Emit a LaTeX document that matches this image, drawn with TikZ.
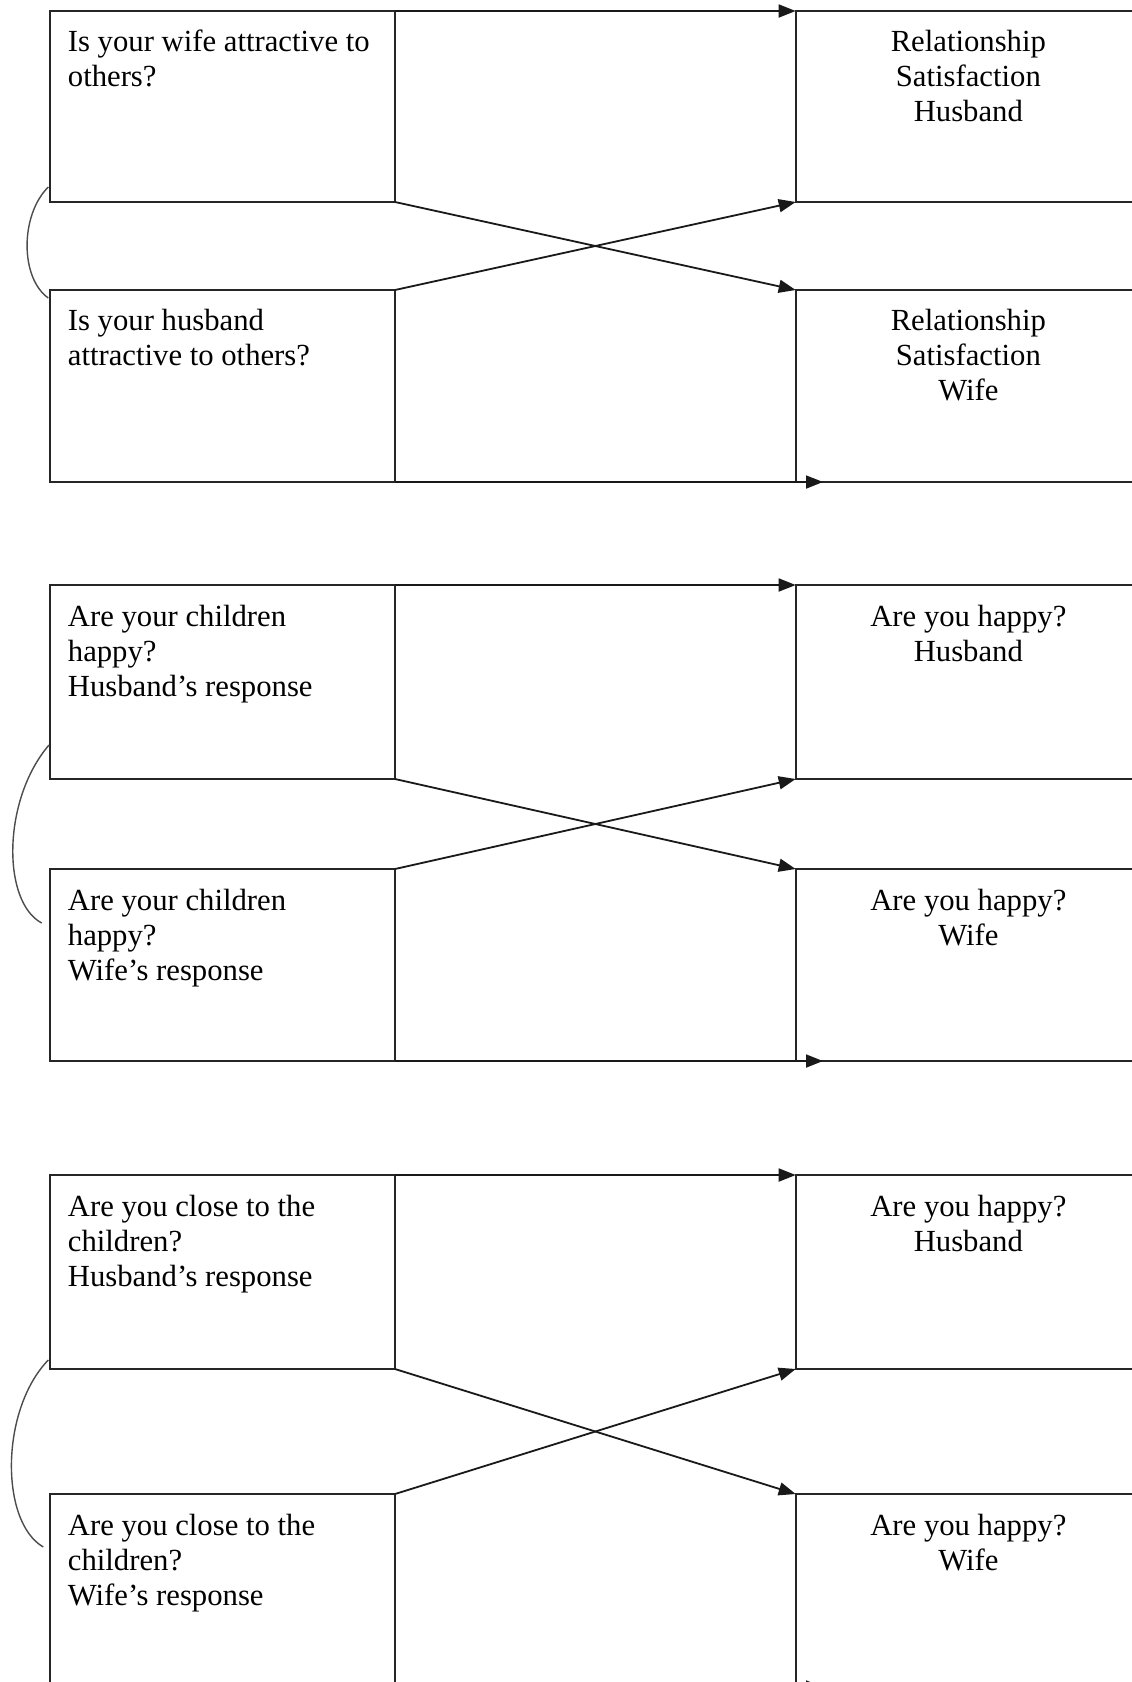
\documentclass[tikz,border=0pt]{standalone}
\usepackage{fontspec}
\setmainfont{Liberation Serif}
\usetikzlibrary{arrows.meta,calc}

\begin{document}
\begin{tikzpicture}[x=1pt,y=-1pt,
  qbox/.style={draw=black!85, line width=2pt, minimum width=345.3pt,
    minimum height=#1, inner sep=0pt, outer sep=0pt, anchor=north west},
  ltext/.style={anchor=north west, inner sep=0pt, align=left,
    font=\fontsize{30.7}{35.3}\selectfont},
  rtext/.style={anchor=north, inner sep=0pt, align=center,
    font=\fontsize{30.7}{35.3}\selectfont},
  conn/.style={draw=black!90, line width=1.8pt,
    -{Triangle[length=17pt,width=13pt]}},
  pairarc/.style={draw=black!70, line width=1.4pt}]

\path[use as bounding box, fill=white] (0,0) rectangle (1132,1682);

% ---------- Block 1: attractiveness -> relationship satisfaction ----------
\node[qbox=191pt] (L1) at (49.7,11) {};
\node[qbox=192pt] (L2) at (49.7,290) {};
\node[qbox=191pt] (R1) at (795.7,11) {};
\node[qbox=192pt] (R2) at (795.7,290) {};
\node[ltext] (L1t) at ($(L1.north west)+(18,18.5)$) {Is your wife attractive to\\others?};
\node[ltext] (L2t) at ($(L2.north west)+(18,18.5)$) {Is your husband\\attractive to others?};
\node[rtext] (R1t) at ($(R1.north west)+(172.65,18.5)$) {Relationship\\Satisfaction\\Husband};
\node[rtext] (R2t) at ($(R2.north west)+(172.65,18.5)$) {Relationship\\Satisfaction\\Wife};
\coordinate (B1) at ($(R2.south west)+(27.3,0)$);
\draw[conn] (L1.north east) -- (R1.north west);
\draw[conn] (L1.south east) -- (R2.north west);
\draw[conn] (L2.north east) -- (R1.south west);
\draw[conn] (L2.south east) -- (B1);
\coordinate (A1s) at (48.3,187);
\coordinate (A1e) at (48.3,298);
\draw[pairarc] (A1s) .. controls (20,215) and (20,278) .. (A1e);

% ---------- Block 2: children happy -> are you happy ----------
\node[qbox=194pt] (L3) at (49.7,585) {};
\node[qbox=192pt] (L4) at (49.7,869) {};
\node[qbox=194pt] (R3) at (795.7,585) {};
\node[qbox=192pt] (R4) at (795.7,869) {};
\node[ltext] (L3t) at ($(L3.north west)+(18,19.5)$) {Are your children\\happy?\\Husband’s response};
\node[ltext] (L4t) at ($(L4.north west)+(18,19.5)$) {Are your children\\happy?\\Wife’s response};
\node[rtext] (R3t) at ($(R3.north west)+(172.65,19.5)$) {Are you happy?\\Husband};
\node[rtext] (R4t) at ($(R4.north west)+(172.65,19.5)$) {Are you happy?\\Wife};
\coordinate (B2) at ($(R4.south west)+(27.3,0)$);
\draw[conn] (L3.north east) -- (R3.north west);
\draw[conn] (L3.south east) -- (R4.north west);
\draw[conn] (L4.north east) -- (R3.south west);
\draw[conn] (L4.south east) -- (B2);
\coordinate (A2s) at (49,745);
\coordinate (A2e) at (41.7,923);
\draw[pairarc] (A2s) .. controls (2,800) and (2,902) .. (A2e);

% ---------- Block 3: closeness to children -> are you happy ----------
\node[qbox=194pt] (L5) at (49.7,1175) {};
\node[qbox=193pt] (L6) at (49.7,1494) {};
\node[qbox=194pt] (R5) at (795.7,1175) {};
\node[qbox=193pt] (R6) at (795.7,1494) {};
\node[ltext] (L5t) at ($(L5.north west)+(18,19.5)$) {Are you close to the\\children?\\Husband’s response};
\node[ltext] (L6t) at ($(L6.north west)+(18,19.5)$) {Are you close to the\\children?\\Wife’s response};
\node[rtext] (R5t) at ($(R5.north west)+(172.65,19.5)$) {Are you happy?\\Husband};
\node[rtext] (R6t) at ($(R6.north west)+(172.65,19.5)$) {Are you happy?\\Wife};
\coordinate (B3) at ($(R6.south west)+(27.3,0)$);
\draw[conn] (L5.north east) -- (R5.north west);
\draw[conn] (L5.south east) -- (R6.north west);
\draw[conn] (L6.north east) -- (R5.south west);
\draw[conn] (L6.south east) -- (B3);
\coordinate (A3s) at (48.3,1360);
\coordinate (A3e) at (43.3,1547);
\draw[pairarc] (A3s) .. controls (0,1410) and (0,1522) .. (A3e);
\end{tikzpicture}
\end{document}
